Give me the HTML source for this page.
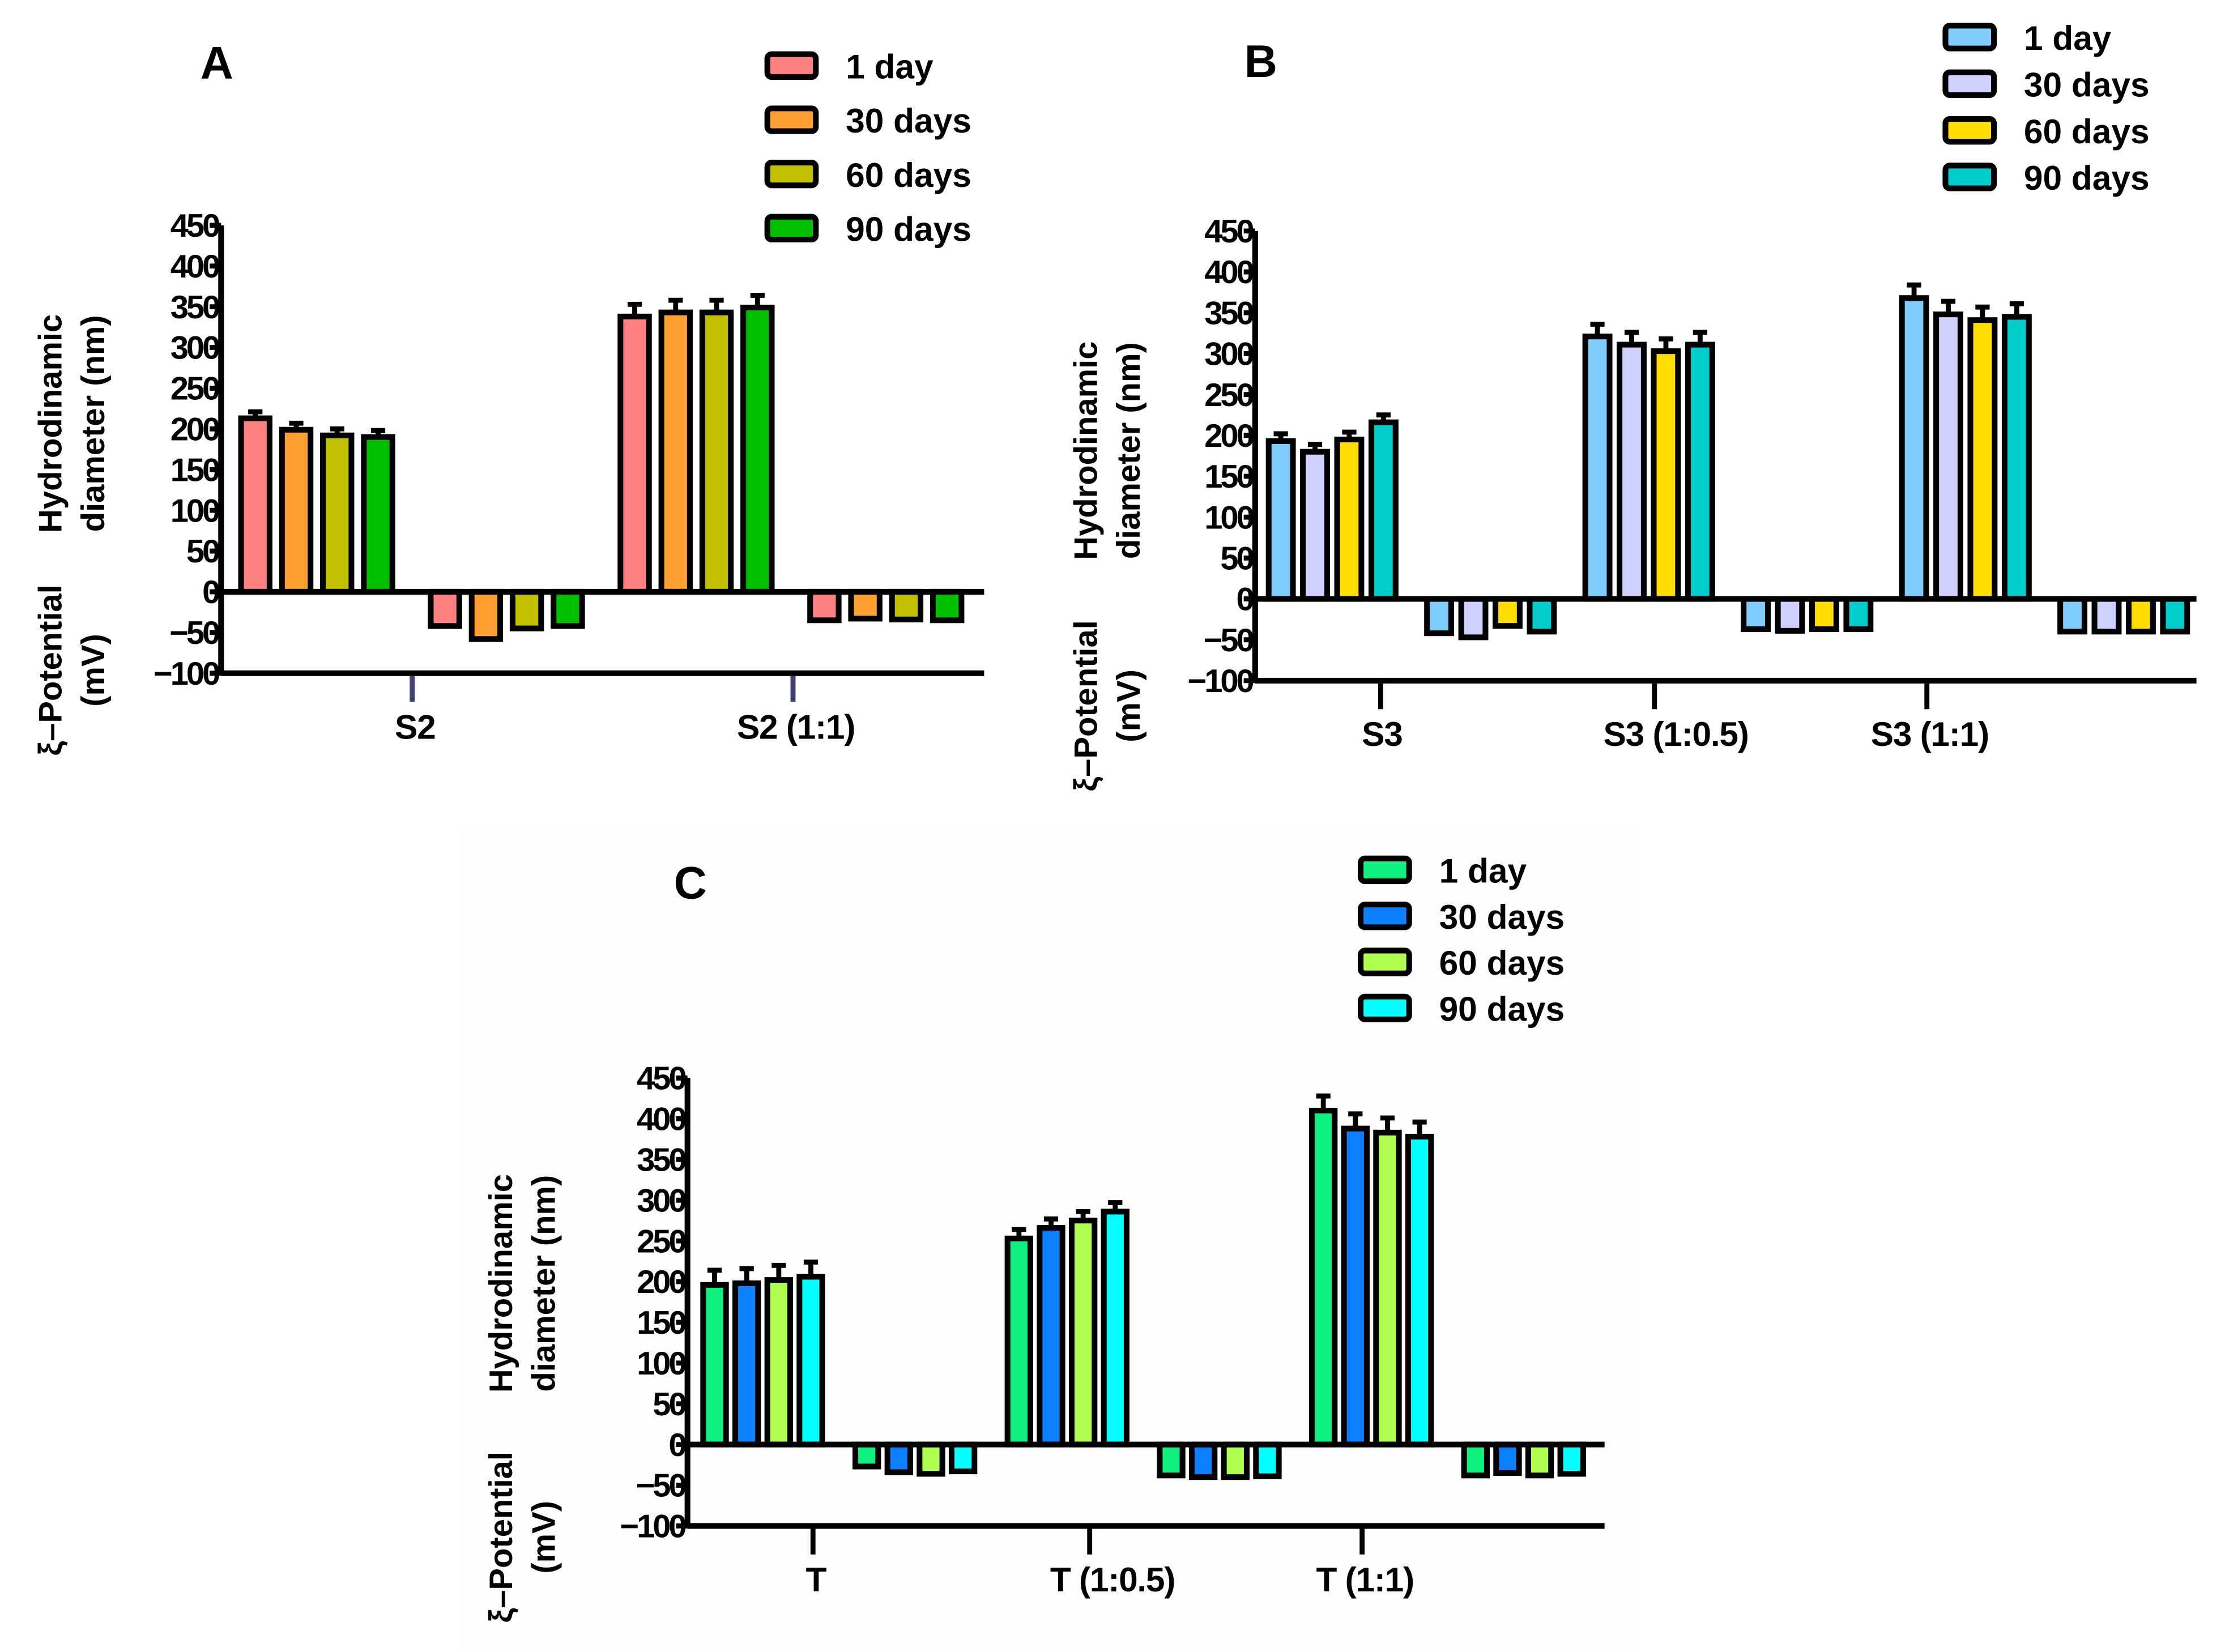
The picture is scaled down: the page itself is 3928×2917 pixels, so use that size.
<!DOCTYPE html>
<html><head><meta charset="utf-8">
<style>
html,body{margin:0;padding:0;background:#fff;}
svg{display:block;}
text{font-family:"Liberation Sans",sans-serif;font-weight:bold;fill:#000;}
</style></head>
<body>
<svg id="fig" width="3928" height="2917" viewBox="0 0 1560 1158.5" xmlns="http://www.w3.org/2000/svg">
<rect x="0" y="0" width="1560" height="1158.5" fill="#fff"/>
<rect x="322" y="580" width="825" height="578" fill="#fdfdfd"/>
</svg>
<script>
// ---- Panel A data ----
const catsA = ["S2", "S2 neg", "S2 (1:1)", "S2 (1:1) neg"];
const seriesNames = ["1 day", "30 days", "60 days", "90 days"];
const a_day1  = [213, -42, 338, -35];
const a_day30 = [199, -58, 343, -33];
const a_day60 = [192, -45, 343, -34];
const a_day90 = [190, -42, 349, -35];
const a_err   = [8, 0, 15, 0];
const ticksA = ["S2", "S2 (1:1)"];
// ---- Panel B data ----
const b_day1  = [193, -42, 321, -37, 368, -40];
const b_day30 = [180, -47, 311, -39, 348, -40];
const b_day60 = [195, -33, 303, -37, 341, -40];
const b_day90 = [216, -40, 311, -37, 345, -40];
const b_err   = [9, 0, 15, 0, 16, 0];
const ticksB = ["S3", "S3 (1:0.5)", "S3 (1:1)"];
// ---- Panel C data ----
const c_day1  = [196, -27, 253, -38, 410, -38];
const c_day30 = [198, -34, 266, -40, 388, -35];
const c_day60 = [202, -36, 275, -40, 383, -38];
const c_day90 = [206, -33, 286, -39, 378, -36];
const c_err   = [18, 0, 11, 0, 18, 0];
const ticksC = ["T", "T (1:0.5)", "T (1:1)"];
const yTicks = [450, 400, 350, 300, 250, 200, 150, 100, 50, 0, -50, -100];

const NS = "http://www.w3.org/2000/svg";
const svg = document.getElementById("fig");
function el(tag, attrs, parent, txt) {
  const e = document.createElementNS(NS, tag);
  for (const k in attrs) e.setAttribute(k, attrs[k]);
  if (txt !== undefined) e.textContent = txt;
  (parent || svg).appendChild(e);
  return e;
}

function panel(p) {
  const g = el("g", {});
  
  
  const y = v => p.y0 - v * p.ppu;
  const t = el("text", {x: p.titleX, y: p.titleY, "font-size": 32, "text-anchor": "middle"}, g, p.title);
  
  
  const series = p.series;
  const nC = series[0].length;
  for (let c = 0; c < nC; c++) {
    for (let s = 0; s < 4; s++) {
      const v = series[s][c];
      const cx = p.x1 + c * p.cs + s * p.bs;
      const top = Math.min(y(v), y(0)), h = Math.abs(y(v) - y(0));
      if (v > 0 && p.err[c] > 0) {
        const ey = y(v + p.err[c]);
        const eb = el("path", {d: `M${cx} ${y(v)}V${ey}M${cx - 5} ${ey}H${cx + 5}`, stroke: "#000", "stroke-width": 3.5, fill: "none"}, g);
        
        
      }
      const r = el("rect", {x: cx - p.bw / 2, y: top, width: p.bw, height: h, fill: p.colors[s], stroke: "#000", "stroke-width": 4}, g);
      
      
    }
  }
  const ax = el("path", {d: `M${p.ax} ${y(450)}V${y(-100)}M${p.ax} ${y(0)}H${p.xEnd}M${p.ax} ${y(-100)}H${p.xEnd}`, stroke: "#000", "stroke-width": 4, fill: "none"}, g);
  
  
  yTicks.forEach(v => {
    el("line", {x1: p.ax - 8, x2: p.ax, y1: y(v), y2: y(v), stroke: "#000", "stroke-width": 3.5}, g);
    const tl = el("text", {x: p.ax - 2, y: y(v) + 8, "font-size": 23, "text-anchor": "end", "letter-spacing": "-1.6"}, g, String(v).replace("-", "\u2212"));
    
    
  });
  p.ticks.forEach((lab, i) => {
    const tx = p.tickX[i];
    el("line", {x1: tx, x2: tx, y1: y(-100) + 2, y2: y(-100) + 20, stroke: p.tickColor, "stroke-width": 3.5}, g);
    const tl = el("text", {x: p.labX[i], y: p.labY, "font-size": 24, "text-anchor": "middle", "letter-spacing": "-0.5"}, g, lab);
    
    
  });
  const ytx = [["Hydrodinamic", p.ylx, p.yly1], ["diameter (nm)", p.ylx + 30, p.yly1], ["\u03BE\u2013Potential", p.ylx, p.yly2], ["(mV)", p.ylx + 30, p.yly2]];
  ytx.forEach(a => {
    const tt = el("text", {x: 0, y: 0, "font-size": 23, "text-anchor": "middle", transform: `translate(${a[1]},${a[2]}) rotate(-90)`}, g, a[0]);
    
    
  });
  seriesNames.forEach((n, i) => {
    const ly = p.legY + i * p.legDy;
    const lr = el("rect", {x: p.legX, y: ly - 8, width: 34, height: 16, rx: 3, fill: p.colors[i], stroke: "#000", "stroke-width": 4}, g);
    
    
    const lt = el("text", {x: p.legX + 55, y: ly + 9, "font-size": 24}, g, n);
    
    
  });
}

panel({id: "a", title: "A", titleX: 152, titleY: 55, ax: 155, xEnd: 690, y0: 415, ppu: 257 / 450,
  x1: 179, cs: 133, bs: 28.7, bw: 20,
  series: [a_day1, a_day30, a_day60, a_day90], err: a_err,
  colors: ["#ff8080", "#ffa033", "#c0c000", "#00c000"],
  ticks: ticksA, tickX: [289, 556], labX: [291, 558], labY: 518, tickColor: "#404070",
  ylx: 43, yly1: 297, yly2: 470, legX: 538, legY: 46, legDy: 38});

panel({id: "b", title: "B", titleX: 884, titleY: 54, ax: 880, xEnd: 1540, y0: 420, ppu: 258 / 450,
  x1: 898, cs: 111, bs: 24, bw: 17,
  series: [b_day1, b_day30, b_day60, b_day90], err: b_err,
  colors: ["#80ccff", "#d0d0ff", "#ffdd00", "#00cccc"],
  ticks: ticksB, tickX: [968, 1160, 1351], labX: [969, 1175, 1353], labY: 523, tickColor: "#000",
  ylx: 769, yly1: 316, yly2: 495, legX: 1364, legY: 26, legDy: 32.7});

panel({id: "c", title: "C", titleX: 484, titleY: 630, ax: 482, xEnd: 1125, y0: 1013, ppu: 257 / 450,
  x1: 501, cs: 106.7, bs: 22.5, bw: 16,
  series: [c_day1, c_day30, c_day60, c_day90], err: c_err,
  colors: ["#10f080", "#0a80ff", "#b0ff50", "#00ffff"],
  ticks: ticksC, tickX: [570, 764, 955], labX: [572, 780, 957], labY: 1116, tickColor: "#000",
  ylx: 359, yly1: 900, yly2: 1078, legX: 954, legY: 610, legDy: 32.3});
</script>
</body></html>
